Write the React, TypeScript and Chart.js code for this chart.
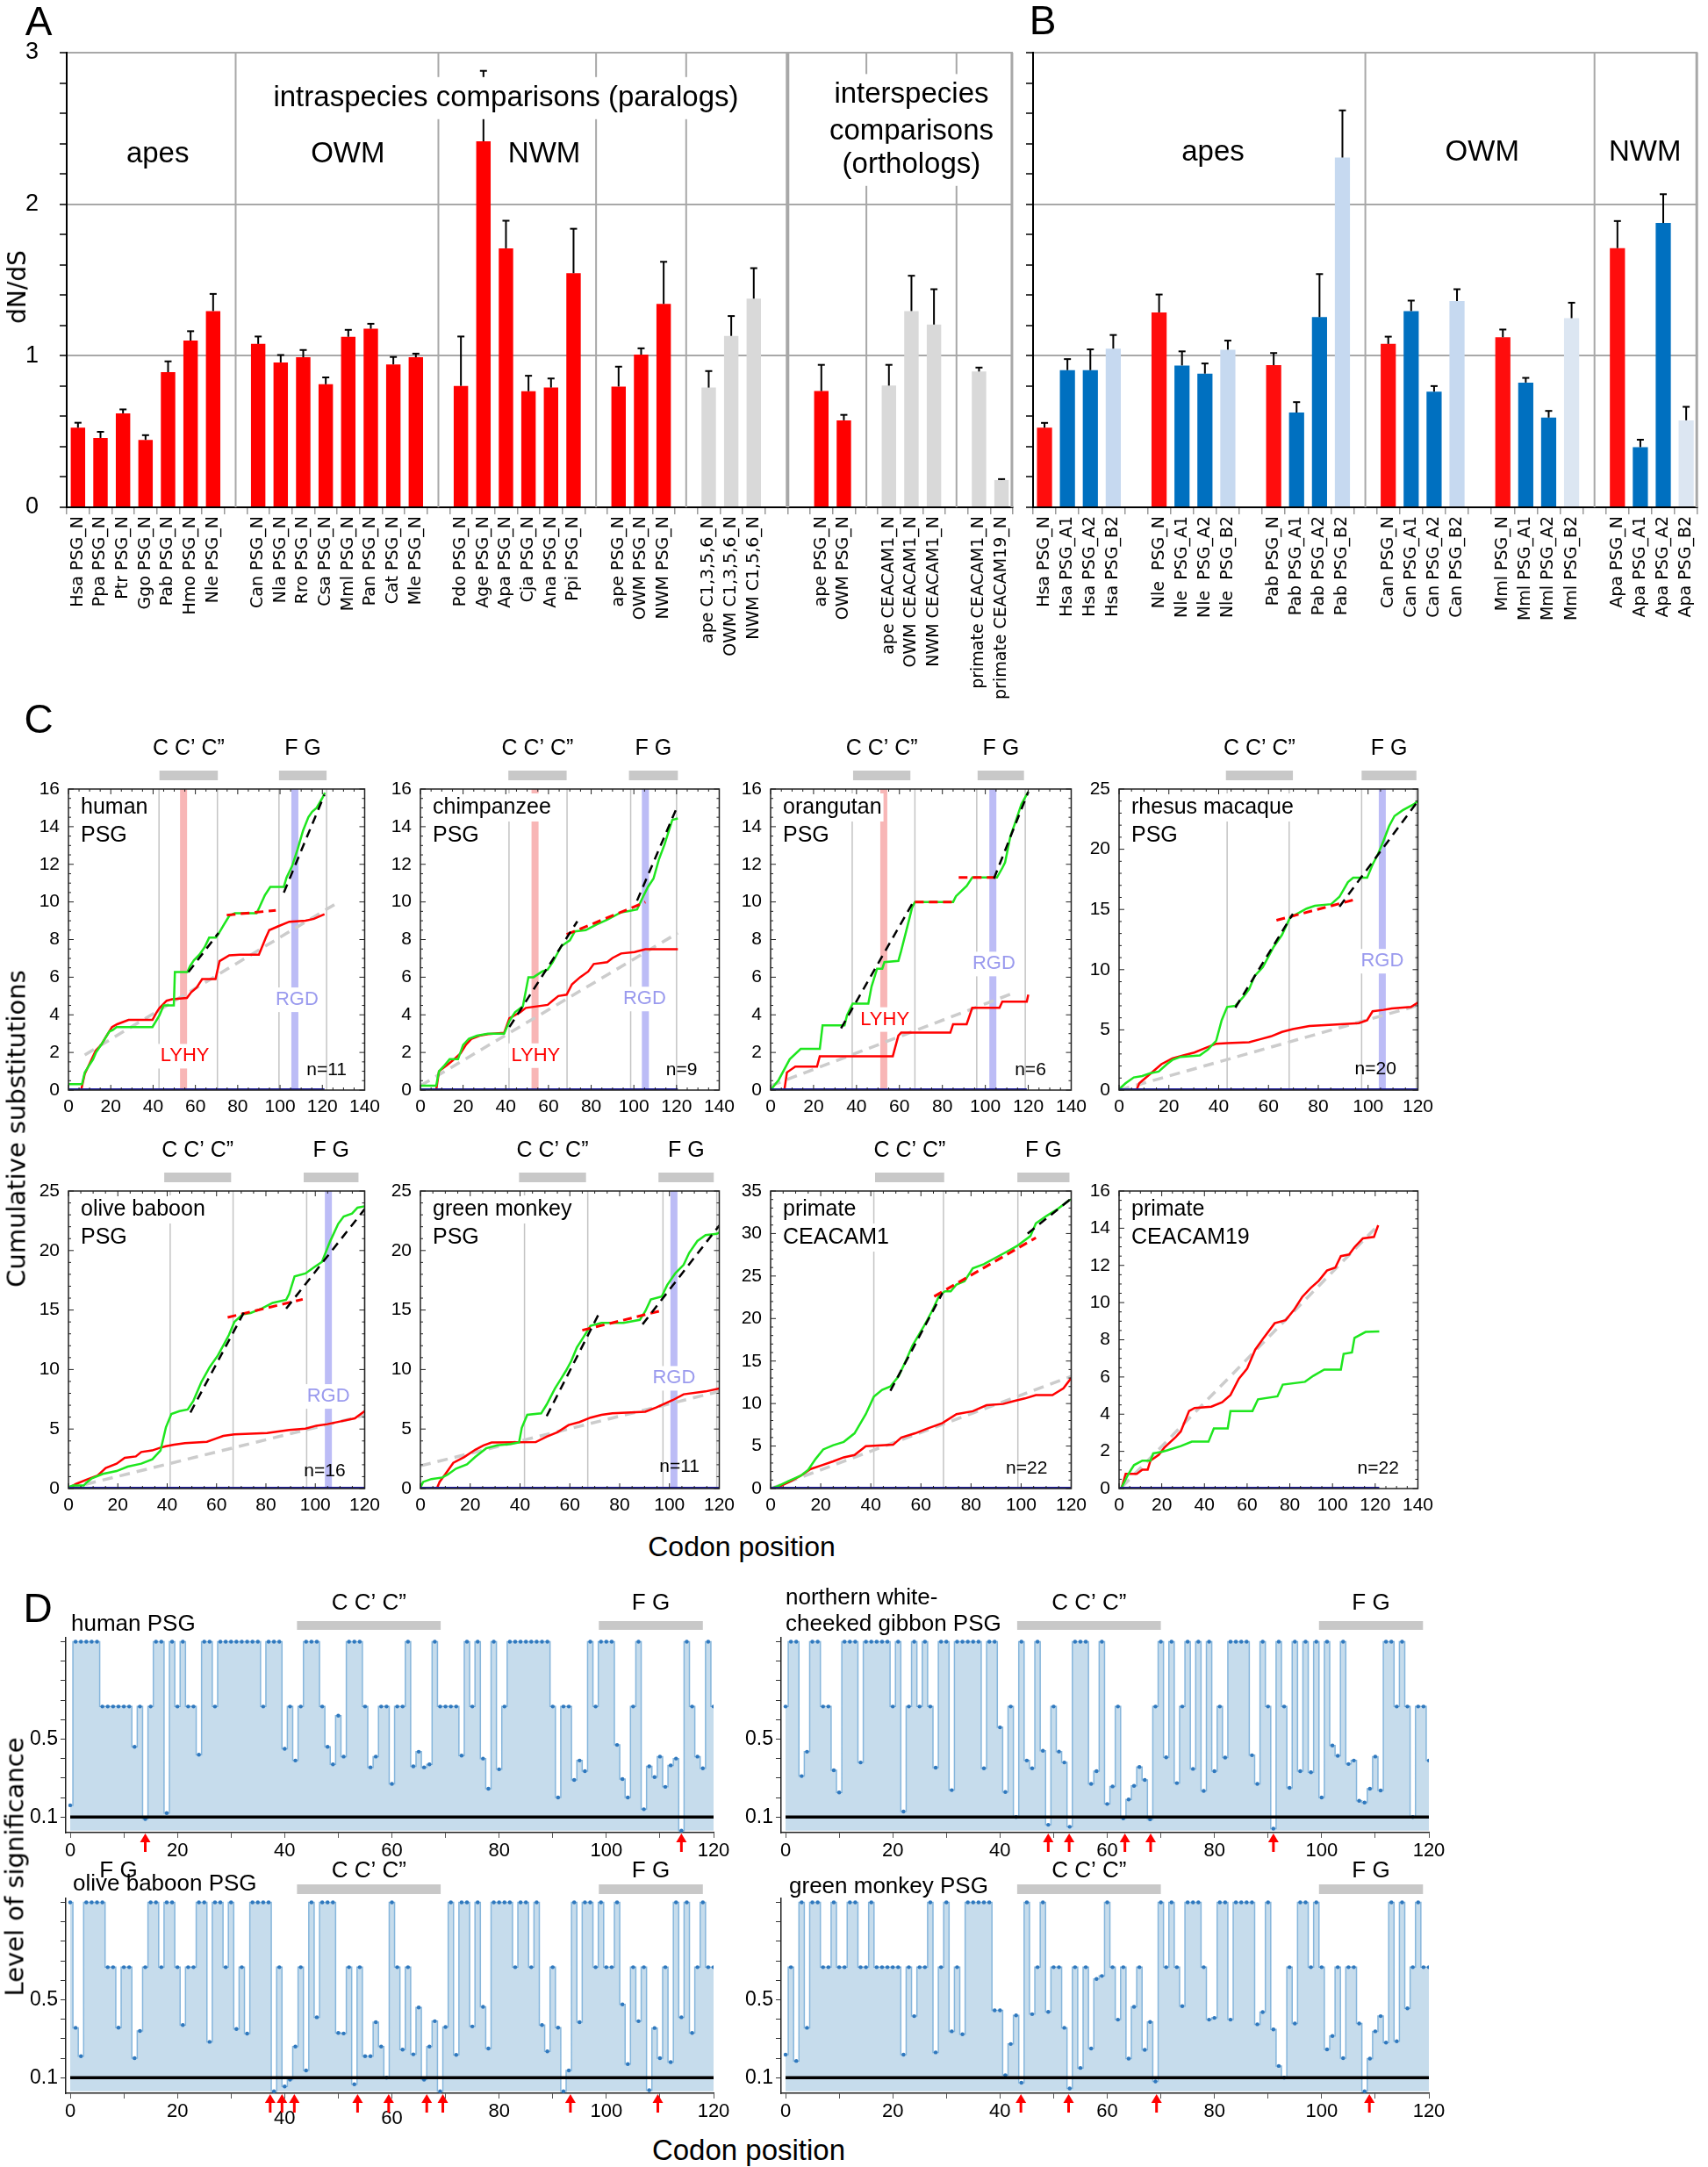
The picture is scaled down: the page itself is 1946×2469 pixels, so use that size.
import React, { useEffect, useRef } from 'react';
import { Chart, registerables } from 'chart.js';

Chart.register(...registerables);

const SANS = '"Liberation Sans", Arial, Helvetica, sans-serif';
const DEJAVU = '"DejaVu Sans", Verdana, sans-serif';
Chart.defaults.font.family = SANS;
Chart.defaults.color = '#000';

/* ======================= Panel A : dN/dS ======================= */
const aLabels = ['Hsa PSG_N','Ppa PSG_N','Ptr PSG_N','Ggo PSG_N','Pab PSG_N','Hmo PSG_N','Nle PSG_N','',
  'Can PSG_N','Nla PSG_N','Rro PSG_N','Csa PSG_N','Mml PSG_N','Pan PSG_N','Cat PSG_N','Mle PSG_N','',
  'Pdo PSG_N','Age PSG_N','Apa PSG_N','Cja PSG_N','Ana PSG_N','Ppi PSG_N','',
  'ape PSG_N','OWM PSG_N','NWM PSG_N','',
  'ape C1,3,5,6_N','OWM C1,3,5,6_N','NWM C1,5,6_N','','',
  'ape PSG_N','OWM PSG_N','',
  'ape CEACAM1_N','OWM CEACAM1_N','NWM CEACAM1_N','',
  'primate CEACAM1_N','primate CEACAM19_N'];
const aValues = [0.525,0.458,0.62,0.445,0.892,1.10,1.295,null,
  1.078,0.956,0.99,0.812,1.125,1.178,0.943,0.99,null,
  0.801,2.415,1.709,0.766,0.79,1.545,null,
  0.797,1.007,1.342,null,
  0.79,1.131,1.377,null,null,
  0.767,0.574,null,
  0.803,1.295,1.206,null,
  0.896,0.18];
const aErrTop = [0.558,0.498,0.646,0.476,0.963,1.162,1.408,null,
  1.127,1.005,1.038,0.857,1.171,1.211,0.992,1.014,null,
  1.127,2.88,1.891,0.868,0.85,1.838,null,
  0.928,1.049,1.62,null,
  0.899,1.262,1.578,null,null,
  0.94,0.61,null,
  0.94,1.528,1.439,null,
  0.922,0.186];
const aKind = ['p','p','p','p','p','p','p','',
  'p','p','p','p','p','p','p','p','',
  'p','p','p','p','p','p','',
  'p','p','p','',
  'g','g','g','','',
  'p','p','',
  'g','g','g','',
  'g','g'];
const dndsTicks = [0,0.2,0.4,0.6,0.8,1,1.2,1.4,1.6,1.8,2,2.2,2.4,2.6,2.8,3];
const aSeparators = [7,16,23,27,35,39];
const aMajorSeparators = [31.5];

/* ======================= Panel B ======================= */
const bLabels = ['Hsa PSG_N','Hsa PSG_A1','Hsa PSG_A2','Hsa PSG_B2','',
  'Nle  PSG_N','Nle  PSG_A1','Nle  PSG_A2','Nle  PSG_B2','',
  'Pab PSG_N','Pab PSG_A1','Pab PSG_A2','Pab PSG_B2','',
  'Can PSG_N','Can PSG_A1','Can PSG_A2','Can PSG_B2','',
  'Mml PSG_N','Mml PSG_A1','Mml PSG_A2','Mml PSG_B2','',
  'Apa PSG_N','Apa PSG_A1','Apa PSG_A2','Apa PSG_B2'];
const bValues = [0.525,0.905,0.905,1.047,null,1.286,0.936,0.882,1.04,null,0.938,0.625,1.255,2.308,null,
  1.078,1.295,0.763,1.361,null,1.122,0.823,0.592,1.248,null,1.71,0.397,1.876,0.574];
const bErrTop = [0.557,0.978,1.042,1.137,null,1.404,1.029,0.949,1.1,null,1.018,0.694,1.539,2.619,null,
  1.126,1.364,0.8,1.439,null,1.173,0.854,0.636,1.35,null,1.889,0.446,2.066,0.663];
const bKind = ['N','A','A','L','','N','A','A','L','','N','A','A','L','','N','A','A','L','','N','A','A','X','','N','A','A','X'];
const bSeparators = [14,24];

/* ======================= Panel C : cumulative substitutions ======================= */
const humanGreen = [[0,0.31],[6.4,0.31],[7.7,0.93],[9.8,1.32],[11.6,1.63],[13.1,2.02],[15.5,2.41],[16.8,2.65],[19.3,3.11],[20.9,3.19],[22.7,3.35],[39.7,3.35],[43,3.97],[45,4.5],[49.8,4.5],[50.3,6.27],[56.2,6.27],[57.5,6.6],[59.3,6.9],[61.9,7.2],[64.4,7.6],[66.5,8.1],[69.6,8.1],[70.9,8.3],[73.5,8.8],[76,9.26],[78.6,9.4],[88.9,9.4],[90.2,9.7],[92.8,10.35],[95.4,10.8],[101.8,10.8],[103.1,11.3],[105.7,11.9],[108.3,12.8],[110.9,13.8],[113.4,14.5],[115.2,14.8],[117.3,15.0],[119.9,15.5],[121.2,15.8]];
const humanRed = [[6,0],[7.7,0.86],[10.3,1.48],[12.9,2.1],[15.5,2.41],[18,2.88],[20.6,3.35],[23,3.5],[28.4,3.73],[39.7,3.73],[41.5,4.1],[43,4.36],[46.4,4.75],[49,4.83],[56,4.9],[58,5.2],[60.6,5.45],[63.2,5.9],[69.5,5.9],[71.4,6.85],[76,7.16],[81,7.2],[90,7.2],[93.3,8.1],[94.9,8.5],[99,8.7],[104.4,8.95],[112,9.0],[116,9.1],[121,9.35]];
const humanTrend = [[7.7,1.87],[126.3,9.9]];
const humanFitBlack = [[[56.7,6.27],[70.9,8.35]],[[101.8,10.5],[121,15.7]]];
const humanFitRed = [[[74.8,9.3],[98,9.55]]];
const humanBase = [[0,0],[121,0]];
const humanRegions = [42.8,70.4,99.5,122];
const humanStrands = [[43,70.6],[99.5,122]];

const chimpGreen = [[0,0.23],[7.4,0.23],[8.7,1.0],[11.2,1.3],[13.7,1.64],[17.6,1.64],[20,2.4],[22.7,2.73],[26.5,2.89],[31.6,3.0],[39.2,3.0],[41.7,3.67],[44.3,4.14],[48,4.45],[50.6,6.0],[53,6.0],[57,6.3],[59.6,6.4],[62,6.8],[66,7.65],[70,7.96],[72.3,8.43],[77.4,8.5],[82.5,8.8],[87.5,9.05],[94,9.45],[97.7,9.52],[101.5,9.6],[104,10.2],[106.6,10.8],[109.2,11.24],[111.7,12.25],[114.3,13.03],[118,14.36],[120.6,14.44]];
const chimpRed = [[7.4,0],[8.7,1.0],[12.5,1.33],[15,1.56],[18.8,1.95],[21.4,2.42],[24,2.73],[27.7,2.89],[31.6,2.97],[39.2,3.04],[41.7,3.82],[46.8,4.14],[49.4,4.37],[59.6,4.53],[62,4.76],[64.6,5.0],[68.5,5.07],[71,5.62],[74.8,6.0],[78.6,6.3],[81.2,6.7],[87.5,6.8],[90,7.02],[94,7.26],[100.3,7.34],[105.4,7.49],[120.6,7.49]];
const chimpTrend = [[0,0.23],[120.6,8.35]];
const chimpFitBlack = [[[41.7,3.35],[73.5,8.97]],[[101.5,10.07],[120.6,15.14]]];
const chimpFitRed = [[[68.5,8.27],[105.4,9.99]]];
const chimpBase = [[0,0],[120.6,0]];
const chimpRegions = [41.5,68.7,98.5,120];
const chimpStrands = [[41.2,68.5],[97.7,120.6]];

const orangGreen = [[0,0],[3.8,0.55],[8.9,1.64],[14,2.19],[22.9,2.19],[24.2,3.44],[34.4,3.44],[35.6,3.98],[38.2,4.6],[45.5,4.6],[47,5.5],[49.6,6.45],[52,6.45],[53,6.8],[59.5,6.87],[60.8,7.4],[64.6,9.1],[65.9,9.7],[67.2,10.0],[85,10.0],[86.3,10.3],[91.3,10.85],[93.9,11.3],[105.4,11.3],[107.9,11.8],[109.2,12.1],[111.7,13.5],[114.2,14.3],[116.8,15.2],[120,15.85]];
const orangRed = [[6.4,0],[7.6,0.94],[11.5,1.25],[21.6,1.25],[22.9,1.8],[56.9,1.8],[59.5,2.9],[60.8,3.05],[83.7,3.05],[85,3.5],[91.3,3.5],[93.9,4.37],[106.6,4.37],[107.9,4.7],[119.3,4.7],[120,5.07]];
const orangTrend = [[0,0.23],[113,5.15]];
const orangFitBlack = [[[32.8,3.28],[67.2,10.15]],[[104,11.24],[120,15.85]]];
const orangFitRed = [[[67.2,10.0],[85,10.0]],[[87.6,11.3],[106.6,11.3]]];
const orangBase = [[0,0],[119.3,0]];
const orangRegions = [38.0,67.2,96,118.6];
const orangStrands = [[38.4,65.1],[96.4,118]];

const rhesusGreen = [[0,0.07],[2.6,0.56],[5.9,1.05],[9.3,1.17],[12.6,1.41],[15.9,1.54],[19.2,2.15],[21.4,2.5],[24.7,2.76],[32.4,2.88],[35.7,3.37],[39,4.1],[41.2,5.8],[43.4,6.9],[46.7,7.0],[50,7.76],[52.2,8.37],[54.4,9.46],[57.7,10.2],[59.9,11.05],[62.1,11.9],[65.4,12.88],[68.7,14.34],[72,14.7],[75.3,15.07],[78.6,15.3],[85.2,15.44],[88.5,16.05],[91.9,17.27],[94,17.63],[99.6,17.63],[101.8,18.73],[104,19.6],[106.2,20.7],[108.4,21.9],[110.6,22.76],[113.9,23.24],[118.3,23.73],[120,24.0]];
const rhesusRed = [[0,0],[7,0],[8.1,0.56],[11.5,1.17],[17,2.15],[21.4,2.63],[25.8,2.88],[30.2,3.12],[34.6,3.49],[39,3.85],[43.4,3.9],[52.2,3.98],[56.6,4.22],[61,4.46],[65.4,4.83],[69.8,5.07],[76.4,5.32],[87.4,5.44],[96.3,5.56],[99.6,5.8],[101.8,6.54],[106.2,6.66],[109.5,6.78],[117.2,6.9],[120,7.27]];
const rhesusTrend = [[0,0],[120,7.02]];
const rhesusFitBlack = [[[46.7,6.85],[69.8,14.63]],[[88.5,15.24],[120,24]]];
const rhesusFitRed = [[[63.2,14.1],[95.2,15.85]]];
const rhesusBase = [[0,0],[120,0]];
const rhesusRegions = [43.4,68.3,97.4,119.4];
const rhesusStrands = [[42.9,69.8],[97.4,119.4]];

const baboonGreen = [[0,0.12],[1.8,0.25],[6.2,0.25],[7.3,0.5],[9.5,0.86],[14,1.23],[19.5,1.47],[24,1.84],[29.5,2.09],[34,2.46],[37.3,3.2],[39.5,5.16],[41.7,6.27],[45,6.51],[48.3,6.64],[50.6,7.37],[53.9,8.97],[57.2,10.2],[60.5,11.18],[62.8,12.05],[65,12.9],[67.2,14.0],[70.5,14.63],[73.8,14.75],[78.3,15.12],[82.7,15.6],[88.2,15.86],[89.4,16.35],[91.6,17.82],[96,18.07],[99.3,18.56],[102.7,19.05],[106,20.77],[109.3,22.25],[111.5,22.86],[114.9,23.11],[117.1,23.6],[120,23.72]];
const baboonRed = [[0,0],[2.9,0.37],[7.3,0.74],[11.8,1.1],[15.1,1.72],[19.5,2.09],[22.8,2.58],[27.3,2.7],[29.5,3.07],[33.9,3.2],[37.3,3.44],[39.5,3.56],[42.8,3.69],[47.2,3.81],[56.1,3.93],[59.4,4.18],[62.7,4.42],[67.2,4.55],[80.5,4.67],[84.9,4.79],[89.4,4.92],[96,5.04],[100.4,5.28],[104.9,5.41],[110.4,5.65],[116,5.9],[120,6.51]];
const baboonTrend = [[0,0],[120,6.15]];
const baboonFitBlack = [[[49.4,6.39],[71.6,15.0]],[[88.2,15.12],[120,23.48]]];
const baboonFitRed = [[[64.5,14.38],[94.9,15.9]]];
const baboonBase = [[0,0],[120,0]];
const baboonRegions = [41.2,66.7,96.5,120];
const baboonStrands = [[38.8,65.9],[95.3,117.5]];

const greenMonkeyGreen = [[0,0.07],[1.1,0.56],[4.4,0.8],[8.8,0.93],[11,1.18],[14.3,1.67],[18.7,2.03],[22,2.65],[26.4,3.38],[30.8,3.63],[36.3,3.75],[39.6,3.87],[40.7,5.1],[42.9,6.2],[48.5,6.32],[50.7,7.06],[54,8.4],[56.2,9.14],[58.4,9.88],[60.6,10.73],[62.8,11.84],[65,12.57],[68.3,13.68],[72.7,13.92],[81.5,13.92],[88.1,14.17],[90.3,14.9],[92.5,15.88],[96.9,16.13],[99.1,17.1],[102.4,18.1],[105.7,18.8],[107.9,19.8],[111.2,20.8],[114.5,21.3],[119,21.4],[120,21.5]];
const greenMonkeyRed = [[6.6,0],[7.7,0.56],[9.9,1.18],[13.2,2.16],[17.6,2.65],[22,3.26],[25.3,3.63],[28.6,3.87],[46.3,3.9],[50.7,4.36],[55,4.73],[59.5,5.34],[63.9,5.59],[68.3,5.96],[72.7,6.2],[77.1,6.32],[90.3,6.45],[94.7,6.81],[101.3,7.43],[105.7,7.92],[114.5,8.16],[120,8.4]];
const greenMonkeyTrend = [[0,1.91],[120,8.16]];
const greenMonkeyFitBlack = [[[50.7,6.08],[71.6,14.66]],[[89.2,13.8],[120,22.1]]];
const greenMonkeyFitRed = [[[65,13.3],[95.8,14.9]]];
const greenMonkeyBase = [[0,0],[120,0]];
const greenMonkeyRegions = [41.8,67.2,97.4,119];
const greenMonkeyStrands = [[39.6,66.5],[95.6,117.8]];

const ceacam1Green = [[0,0],[3,0.3],[8,1.0],[12,1.5],[15,2.2],[18,3.5],[21,4.6],[25,5.1],[29.2,5.49],[33.5,6.5],[38,8.75],[41.2,10.8],[44.5,11.6],[47.8,12.0],[51.1,13.2],[54.4,15.3],[56.6,16.8],[61,19.0],[64.3,20.8],[67.5,22.8],[69.7,23.2],[71.9,23.2],[74.2,24.0],[77.4,24.4],[80.7,25.9],[85.1,26.4],[89.5,27.1],[93.9,27.8],[98.2,28.5],[103.7,29.7],[105.9,31.2],[110.3,32.1],[114.7,32.9],[119.1,33.9],[120,34.0]];
const ceacam1Red = [[0,0],[4,0.3],[8,0.86],[12,1.5],[16,2.3],[20,2.7],[25,3.2],[29.2,3.67],[33.5,3.95],[38,4.98],[48.9,5.15],[52.2,6.0],[57.7,6.5],[62.1,7.0],[68.6,7.7],[74.2,8.75],[80.7,9.1],[86.2,9.8],[92.8,9.95],[97.2,10.3],[101.5,10.6],[105.9,11.0],[112.5,11.0],[116.9,11.8],[120,13.0]];
const ceacam1Trend = [[0,0],[120,13.2]];
const ceacam1FitBlack = [[[47.8,11.5],[68.6,23.0]],[[102.6,30.0],[120,34.1]]];
const ceacam1FitRed = [[[65.3,22.6],[105.9,29.5]]];
const ceacam1Base = [[0,0],[120,0]];
const ceacam1Regions = [41.2,69,98.7,120];
const ceacam1Strands = [[41.7,69.3],[98.5,119.3]];

const ceacam19Green = [[1.3,0.08],[4.4,0.79],[7,1.26],[10.9,1.5],[14.7,1.5],[16,1.89],[19.9,1.97],[22.5,2.05],[28.9,2.28],[34.1,2.52],[41.9,2.52],[44.4,3.23],[50.9,3.23],[52.2,4.17],[62.5,4.17],[65.1,4.8],[74.2,4.96],[76.7,5.59],[87.1,5.74],[91,6.06],[96.1,6.4],[103.9,6.4],[105.2,7.24],[109.1,7.32],[110.3,8.1],[115.5,8.42],[121.9,8.45]];
const ceacam19Red = [[1.3,0.08],[3.1,0.79],[8.3,0.79],[10.9,1.02],[13.4,1.02],[14.7,1.5],[18.6,1.81],[21.2,2.2],[26.4,2.75],[28.9,3.07],[32.8,4.17],[35.4,4.33],[43.2,4.4],[48.3,4.64],[52.2,5.03],[56.1,5.9],[60,6.45],[63.8,7.47],[67.7,8.1],[72.9,8.89],[78,9.05],[81.9,9.6],[85.8,10.3],[89.7,10.78],[93.5,11.17],[97.4,11.72],[101.3,11.88],[103.9,12.5],[107.8,12.59],[110.3,12.98],[114.2,13.45],[119.4,13.53],[121.4,14.16]];
const ceacam19Trend = [[1.3,0.08],[121.4,14.16]];
const ceacam19Base = [[0,0],[121.9,0]];

const codonTicks140 = [0,20,40,60,80,100,120,140];
const codonTicks120 = [0,20,40,60,80,100,120];
const subsTicks16 = [0,2,4,6,8,10,12,14,16];
const subsTicks25 = [0,5,10,15,20,25];
const subsTicks35 = [0,5,10,15,20,25,30,35];

/* ======================= Panel D : level of significance ======================= */
const humanSig = [0.16,1,1,1,1,1,0.667,0.667,0.667,0.667,0.667,0.667,0.46,0.667,0.09,0.667,1,1,0.12,1,
  0.667,1,0.667,0.667,0.42,1,1,0.667,1,1,1,1,1,1,1,1,0.667,1,1,1,
  0.45,0.667,0.39,0.667,1,1,1,0.667,0.46,0.37,0.62,0.41,1,1,1,0.667,0.355,0.41,0.667,0.667,
  0.27,0.667,0.667,1,0.36,0.435,0.355,0.37,1,0.667,0.667,0.667,0.667,0.415,1,0.667,1,0.40,0.245,1,
  0.345,0.667,1,1,1,1,1,1,1,1,0.667,0.20,0.667,0.667,0.29,0.39,0.335,1,0.667,1,
  1,1,0.47,0.295,0.20,0.667,1,0.14,0.36,0.305,0.41,0.255,0.365,0.40,0.03,1,0.667,0.41,0.35,1,
  0.667];
const gibbonSig = [0.667,1,1,0.31,0.435,1,1,0.667,0.667,0.34,0.226,1,1,1,0.38,1,1,1,1,1,
  0.667,1,0.128,0.667,1,0.667,1,0.667,0.353,1,1,0.238,1,1,1,1,1,0.35,1,1,
  0.56,0.228,0.667,0.10,1,0.39,0.35,1,0.44,0.06,0.667,0.436,0.38,0.05,1,1,1,0.27,0.335,1,
  0.167,0.257,0.667,0.093,0.19,0.26,0.357,0.29,0.088,0.667,1,0.406,1,0.274,0.667,1,0.347,1,0.234,1,
  0.335,0.667,0.405,1,1,1,1,0.417,0.27,1,0.667,0.04,1,0.667,0.25,1,0.335,1,0.33,1,
  0.20,1,0.467,0.414,1,0.372,0.39,0.183,0.174,0.245,0.41,0.236,1,1,0.667,1,0.667,0.10,0.667,0.667,
  0.39];
const baboonSig = [1,0.356,0.21,1,1,1,1,0.667,0.667,0.357,0.667,0.667,0.2,0.34,0.667,1,1,0.667,1,1,
  0.667,0.37,0.667,0.667,1,1,0.284,1,1,0.667,1,0.35,0.667,0.326,1,1,1,1,0.03,0.667,
  0.055,0.09,0.26,0.667,0.137,1,0.41,1,1,1,0.33,0.327,0.667,0.066,0.667,0.21,0.21,0.385,0.26,0.10,
  1,0.667,0.244,0.667,0.22,0.46,0.09,0.26,0.39,0.03,0.36,1,0.217,1,1,0.363,1,0.464,0.25,1,
  1,1,1,0.667,1,1,0.667,1,0.37,0.235,0.667,0.357,0.03,0.137,1,0.385,1,1,0.667,1,
  0.667,0.667,1,0.476,0.17,0.667,0.39,0.667,0.036,0.355,0.2,0.667,0.18,1,0.41,1,0.33,0.667,1,0.667,
  0.667];
const greenMonkeySig = [0.218,0.667,0.186,1,0.356,1,1,0.667,0.667,1,0.667,0.667,1,1,0.667,0.667,1,0.667,0.667,0.667,
  0.667,0.667,0.218,0.667,0.416,0.667,0.667,1,0.23,0.667,1,0.338,0.667,0.323,1,1,1,1,1,0.446,
  0.446,0.113,0.273,0.42,0.074,1,0.426,0.667,1,0.438,0.667,0.667,0.356,0.045,0.667,0.15,0.667,0.25,0.607,0.622,
  1,0.667,0.398,0.667,0.198,0.464,0.667,0.243,0.386,0.081,1,0.667,1,0.667,0.467,1,1,1,0.667,0.398,
  0.407,1,1,0.398,1,1,1,1,0.374,0.437,1,0.348,0.16,0.10,0.667,0.378,1,1,0.667,1,
  0.667,0.245,0.314,0.667,0.2,0.667,0.667,0.378,0.03,0.198,0.338,0.416,0.28,1,0.287,1,0.456,0.667,1,0.667,
  0.667];
const humanArrows = [14,114];
const gibbonArrows = [49,52.9,63.3,68.1,91];
const baboonArrows = [37.3,39.5,41.8,53.6,59.4,66.5,69.5,93.3,109.6];
const greenMonkeyArrows = [43.9,52.8,69.2,108.9];
const sigThreshold = [[0,0.1],[120,0.1]];
const sigYTicks = [0.1,0.2,0.3,0.4,0.5,0.6,0.7,0.8,0.9,1.0];
const sigXTicks = [0,10,20,30,40,50,60,70,80,90,100,110,120];
const sigXLabels = [0,20,40,60,80,100,120];
const strandsLeftCol = [[42.3,69.1],[98.6,118]];
const strandsRightCol = [[43.2,70],[99.5,118.9]];

/* ======================= helpers ======================= */
const isInt = (v) => Math.abs(v - Math.round(v)) < 1e-6;
function seg(ctx, x1, y1, x2, y2) { ctx.beginPath(); ctx.moveTo(x1, y1); ctx.lineTo(x2, y2); ctx.stroke(); }
const toXY = (arr) => arr.map((p) => ({ x: p[0], y: p[1] }));
function segsToXY(segs) {
  const out = [];
  segs.forEach((s, i) => {
    if (i > 0) out.push({ x: s[0][0] - 0.01, y: null });
    s.forEach((p) => out.push({ x: p[0], y: p[1] }));
  });
  return out;
}

function ChartBox({ box, make }) {
  const ref = useRef(null);
  useEffect(() => {
    const c = new Chart(ref.current, make());
    return () => c.destroy();
  }, []);
  return (
    <canvas ref={ref} width={box.w} height={box.h}
      style={{ position: 'absolute', left: box.x, top: box.y, width: box.w, height: box.h }} />
  );
}

function Label({ x, y, text, size, family, rotate, color }) {
  return (
    <div style={{ position: 'absolute', left: x, top: y, transform: `translate(-50%,-50%)${rotate ? ' rotate(-90deg)' : ''}`,
      fontSize: size, fontFamily: family || SANS, lineHeight: 1, whiteSpace: 'nowrap', color: color || '#000' }}>{text}</div>
  );
}

/* ======================= bar panels ======================= */
function barDecor(values, errs, seps, majorSeps, texts) {
  return {
    id: 'barDecor',
    beforeDatasetsDraw(chart) {
      const { ctx, chartArea: a, scales } = chart;
      const x = scales.x;
      ctx.save();
      ctx.strokeStyle = '#a8a8a8';
      ctx.lineWidth = 2;
      seps.forEach((s) => { const px = x.getPixelForValue(s); seg(ctx, px, a.top, px, a.bottom); });
      ctx.lineWidth = 4;
      majorSeps.forEach((s) => { const px = x.getPixelForValue(s); seg(ctx, px, a.top, px, a.bottom); });
      ctx.lineWidth = 3;
      seg(ctx, a.right - 1, a.top, a.right - 1, a.bottom);
      ctx.restore();
    },
    afterDatasetsDraw(chart) {
      const { ctx, scales } = chart;
      const y = scales.y;
      const meta = chart.getDatasetMeta(0);
      ctx.save();
      ctx.strokeStyle = '#000';
      ctx.lineWidth = 2;
      errs.forEach((e, i) => {
        if (e == null || values[i] == null) return;
        const px = meta.data[i].x;
        const yt = y.getPixelForValue(e);
        const yb = y.getPixelForValue(values[i]);
        seg(ctx, px, yb, px, yt);
        seg(ctx, px - 4, yt, px + 4, yt);
      });
      ctx.font = `33px ${SANS}`;
      ctx.textAlign = 'center';
      ctx.textBaseline = 'middle';
      texts.forEach((t) => {
        const px = scales.x.getPixelForValue(t.x);
        const py = y.getPixelForValue(t.y);
        const w = ctx.measureText(t.text).width;
        if (t.bg) { ctx.fillStyle = '#fff'; ctx.fillRect(px - w / 2 - 6, py - 24, w + 12, 48); }
        ctx.fillStyle = '#000';
        ctx.fillText(t.text, px, py);
      });
      ctx.restore();
    },
  };
}

function barConfig(labels, values, errs, colors, opt) {
  return {
    type: 'bar',
    data: { labels, datasets: [{ data: values, backgroundColor: colors, barPercentage: opt.barPct, categoryPercentage: 1, borderWidth: 0 }] },
    options: {
      animation: false, responsive: false, devicePixelRatio: 1, events: [],
      layout: { padding: { left: 0, top: opt.mT, right: opt.mR, bottom: 0 } },
      plugins: { legend: { display: false }, tooltip: { enabled: false } },
      scales: {
        x: {
          type: 'category', offset: true,
          grid: { offset: true, drawOnChartArea: false, drawTicks: true, tickLength: 8, color: '#9a9a9a', lineWidth: 1.5 },
          border: { display: true, color: '#000', width: 2 },
          ticks: { autoSkip: false, maxRotation: 90, minRotation: 90, padding: 2, color: '#000', font: { family: DEJAVU, size: 19 } },
          afterFit: (s) => { s.height = opt.mB; },
        },
        y: {
          min: 0, max: 3,
          afterBuildTicks: (s) => { s.ticks = dndsTicks.map((v) => ({ value: v })); },
          ticks: { autoSkip: false, padding: 24, color: '#000', font: { family: SANS, size: 27 }, callback: (v) => (opt.yLabels && isInt(v) ? String(Math.round(v)) : '') },
          grid: { color: (c) => (c.tick && isInt(c.tick.value) && c.tick.value > 0 ? '#a8a8a8' : 'rgba(0,0,0,0)'), lineWidth: 2, tickColor: '#000', tickLength: 8, tickWidth: 1.5 },
          border: { color: '#000', width: 2 },
          afterFit: (s) => { s.width = opt.mL; },
        },
      },
    },
    plugins: [barDecor(values, errs, opt.seps, opt.majorSeps, opt.texts)],
  };
}

const kindColor = { p: '#ff0000', g: '#d9d9d9', N: '#ff0d0d', A: '#0070c0', L: '#c6d9f0', X: '#dce6f2', '': '#fff' };

const panelA = () => barConfig(aLabels, aValues, aErrTop, aKind.map((k) => kindColor[k]), {
  barPct: 0.64, mT: 60, mR: 8, mB: 302, mL: 76, yLabels: true,
  seps: aSeparators, majorSeps: aMajorSeparators,
  texts: [
    { text: 'intraspecies comparisons (paralogs)', x: 19.0, y: 2.70, bg: true },
    { text: 'apes', x: 3.54, y: 2.33 },
    { text: 'OWM', x: 11.98, y: 2.33 },
    { text: 'NWM', x: 20.7, y: 2.33 },
    { text: 'interspecies', x: 37.0, y: 2.72, bg: true },
    { text: 'comparisons', x: 37.0, y: 2.48, bg: true },
    { text: '(orthologs)', x: 37.0, y: 2.26, bg: true },
  ],
});
const panelB = () => barConfig(bLabels, bValues, bErrTop, bKind.map((k) => kindColor[k]), {
  barPct: 0.66, mT: 60, mR: 4, mB: 302, mL: 17, yLabels: false,
  seps: bSeparators, majorSeps: [],
  texts: [
    { text: 'apes', x: 7.35, y: 2.34 },
    { text: 'OWM', x: 19.1, y: 2.34 },
    { text: 'NWM', x: 26.2, y: 2.34 },
  ],
});

/* ======================= panel C ======================= */
const C_M = { l: 60, t: 75, r: 22, b: 42 };
const cCharts = [
  { area: { l: 78, t: 899, w: 340, h: 343 }, title: ['human', 'PSG'], xTicks: codonTicks140, yTicks: subsTicks16, yMinor: 0.5,
    green: humanGreen, red: humanRed, trend: humanTrend, fitBlack: humanFitBlack, fitRed: humanFitRed, base: humanBase,
    regions: humanRegions, strands: humanStrands, pink: 54.4, blue: 107, lyhy: [55, 1.8], rgd: [108, 4.8], n: 'n=11', nPos: [122, 1.05] },
  { area: { l: 479, t: 899, w: 343, h: 343 }, title: ['chimpanzee', 'PSG'], xTicks: codonTicks140, yTicks: subsTicks16, yMinor: 0.5,
    green: chimpGreen, red: chimpRed, trend: chimpTrend, fitBlack: chimpFitBlack, fitRed: chimpFitRed, base: chimpBase,
    regions: chimpRegions, strands: chimpStrands, pink: 53.7, blue: 105.4, lyhy: [54, 1.83], rgd: [105, 4.84], n: 'n=9', nPos: [122.4, 1.05] },
  { area: { l: 878, t: 899, w: 345, h: 343 }, title: ['orangutan', 'PSG'], xTicks: codonTicks140, yTicks: subsTicks16, yMinor: 0.5,
    green: orangGreen, red: orangRed, trend: orangTrend, fitBlack: orangFitBlack, fitRed: orangFitRed, base: orangBase,
    regions: orangRegions, strands: orangStrands, pink: 52.7, blue: 103.5, lyhy: [53.2, 3.75], rgd: [104, 6.7], n: 'n=6', nPos: [121, 1.06] },
  { area: { l: 1275, t: 899, w: 343, h: 343 }, title: ['rhesus macaque', 'PSG'], xTicks: codonTicks120, yTicks: subsTicks25, yMinor: 1,
    green: rhesusGreen, red: rhesusRed, trend: rhesusTrend, fitBlack: rhesusFitBlack, fitRed: rhesusFitRed, base: rhesusBase,
    regions: rhesusRegions, strands: rhesusStrands, blue: 105.7, rgd: [105.7, 10.7], n: 'n=20', nPos: [103, 1.73] },
  { area: { l: 78, t: 1357, w: 340, h: 339 }, title: ['olive baboon', 'PSG'], xTicks: codonTicks120, yTicks: subsTicks25, yMinor: 1,
    green: baboonGreen, red: baboonRed, trend: baboonTrend, fitBlack: baboonFitBlack, fitRed: baboonFitRed, base: baboonBase,
    regions: baboonRegions, strands: baboonStrands, blue: 105.3, rgd: [105.3, 7.74], n: 'n=16', nPos: [103.8, 1.47] },
  { area: { l: 479, t: 1357, w: 343, h: 339 }, title: ['green monkey', 'PSG'], xTicks: codonTicks120, yTicks: subsTicks25, yMinor: 1,
    green: greenMonkeyGreen, red: greenMonkeyRed, trend: greenMonkeyTrend, fitBlack: greenMonkeyFitBlack, fitRed: greenMonkeyFitRed, base: greenMonkeyBase,
    regions: greenMonkeyRegions, strands: greenMonkeyStrands, blue: 101.8, rgd: [101.8, 9.26], n: 'n=11', nPos: [104, 1.8] },
  { area: { l: 878, t: 1357, w: 345, h: 339 }, title: ['primate', 'CEACAM1'], xTicks: codonTicks120, yTicks: subsTicks35, yMinor: 1,
    green: ceacam1Green, red: ceacam1Red, trend: ceacam1Trend, fitBlack: ceacam1FitBlack, fitRed: ceacam1FitRed, base: ceacam1Base,
    regions: ceacam1Regions, strands: ceacam1Strands, n: 'n=22', nPos: [102.2, 2.33] },
  { area: { l: 1275, t: 1357, w: 343, h: 339 }, title: ['primate', 'CEACAM19'], xTicks: codonTicks140, yTicks: subsTicks16, yMinor: 0.5,
    green: ceacam19Green, red: ceacam19Red, trend: ceacam19Trend, fitBlack: [], fitRed: [], base: ceacam19Base,
    regions: [], strands: [], n: 'n=22', nPos: [121.4, 1.07] },
];

function cDecor(c) {
  return {
    id: 'cDecor',
    beforeDatasetsDraw(chart) {
      const { ctx, chartArea: a, scales } = chart;
      const x = scales.x, y = scales.y;
      ctx.save();
      ctx.strokeStyle = '#c4c4c4';
      ctx.lineWidth = 1.5;
      c.regions.forEach((v) => { const px = x.getPixelForValue(v); seg(ctx, px, a.top, px, a.bottom); });
      if (c.pink != null) { const px = x.getPixelForValue(c.pink); ctx.fillStyle = '#f8b6b6'; ctx.fillRect(px - 4, a.top, 8, a.bottom - a.top); }
      if (c.blue != null) { const px = x.getPixelForValue(c.blue); ctx.fillStyle = '#bcbcf6'; ctx.fillRect(px - 4, a.top, 8, a.bottom - a.top); }
      ctx.font = `25px ${SANS}`;
      ctx.textBaseline = 'middle';
      ctx.textAlign = 'left';
      c.title.forEach((t, i) => {
        const tx = a.left + 14, ty = a.top + 21 + i * 32;
        const w = ctx.measureText(t).width;
        ctx.fillStyle = '#fff'; ctx.fillRect(tx - 2, ty - 16, w + 4, 32);
        ctx.fillStyle = '#000'; ctx.fillText(t, tx, ty);
      });
      const tag = (txt, pos, color) => {
        ctx.font = `22px ${SANS}`;
        ctx.textAlign = 'center';
        const px = x.getPixelForValue(pos[0]), py = y.getPixelForValue(pos[1]);
        const w = ctx.measureText(txt).width;
        ctx.fillStyle = '#fff'; ctx.fillRect(px - w / 2 - 3, py - 14, w + 6, 28);
        ctx.fillStyle = color; ctx.fillText(txt, px, py);
      };
      if (c.lyhy) tag('LYHY', c.lyhy, '#ff0000');
      if (c.rgd) tag('RGD', c.rgd, '#9a9aee');
      ctx.restore();
    },
    afterDraw(chart) {
      const { ctx, chartArea: a, scales } = chart;
      const x = scales.x, y = scales.y;
      const xMax = c.xTicks[c.xTicks.length - 1];
      const yMax = c.yTicks[c.yTicks.length - 1];
      const yStep = c.yTicks[1] - c.yTicks[0];
      ctx.save();
      ctx.strokeStyle = '#222';
      ctx.lineWidth = 1.5;
      ctx.strokeRect(a.left, a.top, a.right - a.left, a.bottom - a.top);
      ctx.lineWidth = 1;
      for (let v = 0; v <= xMax + 1e-9; v += 5) {
        const px = x.getPixelForValue(v);
        const len = v % 20 === 0 ? 6 : 3;
        seg(ctx, px, a.bottom, px, a.bottom - len);
        seg(ctx, px, a.top, px, a.top + len);
      }
      for (let v = 0; v <= yMax + 1e-9; v += c.yMinor) {
        const py = y.getPixelForValue(v);
        const len = isInt(v / yStep) ? 6 : 3;
        seg(ctx, a.left, py, a.left + len, py);
        seg(ctx, a.right, py, a.right - len, py);
      }
      ctx.font = `25px ${SANS}`;
      ctx.textAlign = 'center';
      ctx.textBaseline = 'middle';
      const names = ['C C\u2019 C\u201D', 'F G'];
      c.strands.forEach((s, i) => {
        const p1 = x.getPixelForValue(s[0]), p2 = x.getPixelForValue(s[1]);
        ctx.fillStyle = '#c8c8c8';
        ctx.fillRect(p1, a.top - 21, p2 - p1, 11);
        ctx.fillStyle = '#000';
        ctx.fillText(names[i], (p1 + p2) / 2, a.top - 46);
      });
      ctx.font = `21px ${SANS}`;
      ctx.fillStyle = '#000';
      ctx.fillText(c.n, x.getPixelForValue(c.nPos[0]), y.getPixelForValue(c.nPos[1]));
      ctx.restore();
    },
  };
}

function cConfig(c) {
  const line = { pointRadius: 0, fill: false, tension: 0, spanGaps: false };
  const xMax = c.xTicks[c.xTicks.length - 1];
  const yMax = c.yTicks[c.yTicks.length - 1];
  return {
    type: 'line',
    data: {
      datasets: [
        { ...line, data: toXY(c.base), borderColor: '#1c1c9c', borderWidth: 4 },
        { ...line, data: segsToXY(c.fitBlack), borderColor: '#000', borderDash: [10, 7], borderWidth: 2.5 },
        { ...line, data: segsToXY(c.fitRed), borderColor: '#ff0000', borderDash: [10, 6], borderWidth: 3 },
        { ...line, data: toXY(c.green), borderColor: '#1ee61e', borderWidth: 2.5 },
        { ...line, data: toXY(c.red), borderColor: '#ff0000', borderWidth: 2.5 },
        { ...line, data: toXY(c.trend), borderColor: '#cccccc', borderDash: [12, 8], borderWidth: 3.5 },
      ],
    },
    options: {
      animation: false, responsive: false, devicePixelRatio: 1, events: [],
      layout: { padding: { left: 0, top: C_M.t, right: C_M.r, bottom: 0 } },
      plugins: { legend: { display: false }, tooltip: { enabled: false } },
      scales: {
        x: {
          type: 'linear', min: 0, max: xMax,
          afterBuildTicks: (s) => { s.ticks = c.xTicks.map((v) => ({ value: v })); },
          ticks: { font: { family: SANS, size: 21 }, color: '#000', padding: 7, maxRotation: 0, autoSkip: false },
          grid: { display: false, drawTicks: false }, border: { display: false },
          afterFit: (s) => { s.height = C_M.b; },
        },
        y: {
          min: 0, max: yMax,
          afterBuildTicks: (s) => { s.ticks = c.yTicks.map((v) => ({ value: v })); },
          ticks: { font: { family: SANS, size: 21 }, color: '#000', padding: 10, autoSkip: false },
          grid: { display: false, drawTicks: false }, border: { display: false },
          afterFit: (s) => { s.width = C_M.l; },
        },
      },
    },
    plugins: [cDecor(c)],
  };
}

/* ======================= panel D ======================= */
const D_M = { l: 60, t: 65, r: 20, b: 42 };
const dCharts = [
  { area: { l: 75, t: 1866, w: 738, h: 222 }, values: humanSig, arrows: humanArrows, strands: strandsLeftCol,
    title: [{ text: 'human PSG', dy: 15.6 }], titleDx: 1, barTop: 19, barH: 10, labelDy: 39, extra: [], lowered: [] },
  { area: { l: 890, t: 1866, w: 738, h: 222 }, values: gibbonSig, arrows: gibbonArrows, strands: strandsRightCol,
    title: [{ text: 'northern white-', dy: 45.6 }, { text: 'cheeked gibbon PSG', dy: 15.6 }], titleDx: 0, barTop: 19, barH: 10, labelDy: 39, extra: [], lowered: [] },
  { area: { l: 75, t: 2163, w: 738, h: 222 }, values: baboonSig, arrows: baboonArrows, strands: strandsLeftCol,
    title: [{ text: 'olive baboon PSG', dy: 16 }], titleDx: 3, barTop: 16, barH: 11, labelDy: 31,
    extra: [{ text: 'F G', x: 9, dy: 31 }], lowered: [40, 60] },
  { area: { l: 890, t: 2163, w: 738, h: 222 }, values: greenMonkeySig, arrows: greenMonkeyArrows, strands: strandsRightCol,
    title: [{ text: 'green monkey PSG', dy: 13 }], titleDx: 4, barTop: 16, barH: 11, labelDy: 31, extra: [], lowered: [] },
];

function dDecor(d) {
  return {
    id: 'dDecor',
    afterDraw(chart) {
      const { ctx, chartArea: a, scales } = chart;
      const x = scales.x;
      const x0 = x.getPixelForValue(0);
      ctx.save();
      ctx.textBaseline = 'middle';
      ctx.font = `26px ${SANS}`;
      ctx.fillStyle = '#000';
      ctx.textAlign = 'left';
      d.title.forEach((t) => ctx.fillText(t.text, x0 + d.titleDx, a.top - t.dy));
      ctx.textAlign = 'center';
      const names = ['C C\u2019 C\u201D', 'F G'];
      d.strands.forEach((s, i) => {
        const p1 = x.getPixelForValue(s[0]), p2 = x.getPixelForValue(s[1]);
        ctx.fillStyle = '#c8c8c8';
        ctx.fillRect(p1, a.top - d.barTop, p2 - p1, d.barH);
        ctx.fillStyle = '#000';
        ctx.fillText(names[i], (p1 + p2) / 2, a.top - d.labelDy);
      });
      d.extra.forEach((e) => ctx.fillText(e.text, x.getPixelForValue(e.x), a.top - e.dy));
      ctx.font = `22px ${SANS}`;
      sigXLabels.forEach((v) => {
        ctx.fillText(String(v), x.getPixelForValue(v), a.bottom + 21 + (d.lowered.includes(v) ? 8 : 0));
      });
      ctx.fillStyle = '#ff0000';
      ctx.strokeStyle = '#ff0000';
      ctx.lineWidth = 3;
      d.arrows.forEach((v) => {
        const px = x.getPixelForValue(v);
        seg(ctx, px, a.bottom + 8, px, a.bottom + 22);
        ctx.beginPath();
        ctx.moveTo(px, a.bottom + 1);
        ctx.lineTo(px - 6, a.bottom + 11);
        ctx.lineTo(px + 6, a.bottom + 11);
        ctx.closePath();
        ctx.fill();
      });
      ctx.restore();
    },
  };
}

function dConfig(d) {
  return {
    type: 'line',
    data: {
      datasets: [
        { data: toXY(sigThreshold), borderColor: '#000', borderWidth: 3.5, pointRadius: 0, fill: false },
        { data: d.values.map((v, i) => ({ x: i, y: v })), stepped: 'middle', fill: { value: 0.03 },
          backgroundColor: '#c6dcec', borderColor: '#86b6dc', borderWidth: 1.5,
          pointRadius: 2.2, pointBackgroundColor: '#2f78be', pointBorderWidth: 0 },
      ],
    },
    options: {
      animation: false, responsive: false, devicePixelRatio: 1, events: [],
      layout: { padding: { left: 0, top: D_M.t, right: D_M.r, bottom: 0 } },
      plugins: { legend: { display: false }, tooltip: { enabled: false } },
      scales: {
        x: {
          type: 'linear', min: -0.82, max: 120,
          afterBuildTicks: (s) => { s.ticks = sigXTicks.map((v) => ({ value: v })); },
          ticks: { display: false },
          grid: { drawOnChartArea: false, drawTicks: true, tickLength: 6, color: '#555', lineWidth: 1 },
          border: { color: '#222', width: 1.5 },
          afterFit: (s) => { s.height = D_M.b; },
        },
        y: {
          min: 0.02, max: 1.02,
          afterBuildTicks: (s) => { s.ticks = sigYTicks.map((v) => ({ value: v })); },
          ticks: { font: { family: SANS, size: 23 }, color: '#000', padding: 3, autoSkip: false,
            callback: (v) => (v === 0.5 ? '0.5' : v === 0.1 ? '0.1' : '') },
          grid: { drawOnChartArea: false, drawTicks: true, tickLength: 6, color: '#333', lineWidth: 1 },
          border: { color: '#222', width: 1.5 },
          afterFit: (s) => { s.width = D_M.l; },
        },
      },
    },
    plugins: [dDecor(d)],
  };
}

const boxOf = (area, m) => ({ x: area.l - m.l, y: area.t - m.t, w: area.w + m.l + m.r, h: area.h + m.t + m.b });

export default function App() {
  return (
    <div style={{ position: 'absolute', left: 0, top: 0, width: 1946, height: 2469, overflow: 'hidden', background: '#fff', fontFamily: SANS }}>
      <ChartBox box={{ x: 0, y: 0, w: 1166, h: 880 }} make={panelA} />
      <ChartBox box={{ x: 1160, y: 0, w: 786, h: 880 }} make={panelB} />
      {cCharts.map((c, i) => (
        <ChartBox key={'c' + i} box={boxOf(c.area, C_M)} make={() => cConfig(c)} />
      ))}
      {dCharts.map((d, i) => (
        <ChartBox key={'d' + i} box={boxOf(d.area, D_M)} make={() => dConfig(d)} />
      ))}
      <Label x={44} y={24} text="A" size={46} />
      <Label x={1188} y={23} text="B" size={46} />
      <Label x={44} y={819} text="C" size={46} />
      <Label x={43} y={1832} text="D" size={46} />
      <Label x={20} y={327} text="dN/dS" size={28} family={DEJAVU} rotate />
      <Label x={19} y={1286} text="Cumulative substitutions" size={29} family={DEJAVU} rotate />
      <Label x={845} y={1762} text="Codon position" size={32} />
      <Label x={17} y={2127} text="Level of significance" size={29} family={DEJAVU} rotate />
      <Label x={853} y={2449} text="Codon position" size={33} />
    </div>
  );
}
